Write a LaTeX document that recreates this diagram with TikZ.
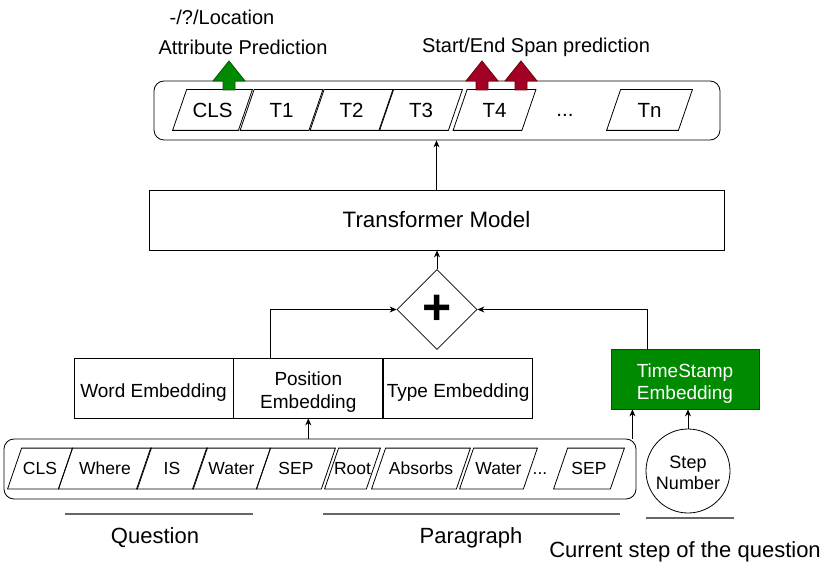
\documentclass[tikz,border=0pt]{standalone}
\usepackage{fontspec}
\setmainfont{Liberation Sans}
\usetikzlibrary{arrows.meta,positioning,calc,shapes.geometric}
\definecolor{TGreen}{HTML}{008A00}
\definecolor{TGreenDark}{HTML}{005700}
\definecolor{TRed}{HTML}{A20025}
\definecolor{TRedDark}{HTML}{6F0000}
\definecolor{TGray}{HTML}{666666}

\tikzset{
  tok/.style={minimum width=#1,minimum height=40pt,inner sep=0pt,font=\fontsize{17.5}{20}\selectfont,
    append after command={\pgfextra{\draw (\tikzlastnode.south west) -- ($(\tikzlastnode.north west)+(14,0)$) -- (\tikzlastnode.north east) -- ($(\tikzlastnode.south east)+(-14,0)$) -- cycle;}}},
  toptok/.style={tok=#1,font=\fontsize{20.5}{24}\selectfont},
  toptok/.default=82pt,
  holder/.style={draw,rounded corners=10pt,minimum height=59pt,inner sep=0pt},
  embbox/.style={draw,align=center,minimum width=149pt,minimum height=60pt,inner sep=0pt,font=\fontsize{19}{23}\selectfont,execute at begin node={\rule{0pt}{22pt}}},
  twoline/.style={execute at begin node={\rule{0pt}{#1}}},
  lbl/.style={font=\fontsize{20}{24}\selectfont,inner sep=0pt},
  biglbl/.style={font=\fontsize{22}{26}\selectfont,inner sep=0pt},
  sepline/.style={TGray,line width=1.4pt},
  arr/.style={->,line width=0.8pt},
  pics/blockup/.style={code={\draw[line width=0.8pt,#1] (-6,0) -- (-6,-9) -- (-16,-9) -- (0,-29) -- (16,-9) -- (6,-9) -- (6,0) -- cycle;}}
}

\begin{document}
\begin{tikzpicture}[x=1pt,y=-1pt,>={Stealth[length=7pt,width=6pt]},line width=0.8pt]
    \useasboundingbox (0,0) rectangle (830,569);

    % output row
    \node[holder,minimum width=566pt] (outrow) at (437,110.5) {};
    \node[toptok=79pt] (ocls) at (212.5,110) {CLS};
    \foreach \i/\x in {1/281.5,2/351.5,3/421,4/494.5}
      \node[toptok] (t\i) at (\x,110) {T\i};
    \node[font=\fontsize{20.5}{24}\selectfont] (odots) at (565,115) {...};
    \node[toptok=85pt] (tn) at (649.5,110) {Tn};

    \pic at (229,90) {blockup={fill=TGreen,draw=TGreenDark}};
    \pic at (482,90) {blockup={fill=TRed,draw=TRedDark}};
    \pic at (521,90) {blockup={fill=TRed,draw=TRedDark}};

    \node[lbl] (attr) at (243,47) {Attribute Prediction};
    \node[lbl] (loc) at (222,17) {-/?/Location};
    \node[lbl] (span) at (536,47) {Start/End Span prediction};

    % model
    \node[draw,minimum width=575pt,minimum height=60pt,font=\fontsize{22.3}{26}\selectfont] (trans) at (436.5,220) {Transformer Model};
    \node[draw,diamond,minimum width=80pt,minimum height=80pt,inner sep=0pt,font=\bfseries\fontsize{50}{50}\selectfont] (plus) at (437,309.5) {+};

    % embeddings
    \node[embbox,minimum width=159pt] (word) at (153.5,388) {Word Embedding};
    \node[embbox,twoline=45pt,right=0pt of word] (pos) {Position\\Embedding};
    \node[embbox,right=0pt of pos] (type) {Type Embedding};
    \node[embbox,twoline=44pt,minimum width=148pt,fill=TGreen,draw=TGreenDark,text=white,font=\fontsize{19}{22}\selectfont] (stamp) at (685,379) {TimeStamp\\Embedding};

    % input row
    \node[holder,minimum width=632pt,minimum height=60pt] (inrow) at (320,469) {};
    \foreach \n/\x/\w/\t in {icls/40/64/CLS,iwhere/105/92/Where,iis/172/70/IS,iwater/231.5/77/Water,isep/296/78/SEP,iroot/352.5/55/Root,iabs/421/98/Absorbs,iwatertwo/498.5/77/Water,iseptwo/589/70/SEP}
      \node[tok=\w pt] (\n) at (\x,468.5) {\t};
    \node[font=\fontsize{17.5}{20}\selectfont] (idots) at (540,474) {...};

    \node[draw,circle,minimum size=84pt,inner sep=0pt,align=center,font=\fontsize{18}{21}\selectfont,twoline=37pt] (step) at (688,471) {Step\\Number};

    % connectors
    \draw[arr] (trans.north) -- (trans.north |- outrow.south);
    \draw[arr] (plus.north) -- (plus.north |- trans.south);
    \draw[arr] ($(pos.north west)!0.25!(pos.north east)$) |- (plus.west);
    \draw[arr] ($(stamp.north west)!0.25!(stamp.north east)$) |- (plus.east);
    \draw[arr] (pos.south |- inrow.north) -- (pos.south);
    \coordinate (inexit) at ($(inrow.north east)+(-4,0)$);
    \draw[arr] (inexit) -- (inexit |- stamp.south);
    \draw[arr] (step.north) -- (step.north |- stamp.south);

    % captions
    \coordinate (qa) at (65,514);
    \coordinate (qb) at (253,514);
    \draw[sepline] (qa) -- (qb);
    \coordinate (pa) at (323,514);
    \coordinate (pb) at (620,514);
    \draw[sepline] (pa) -- (pb);
    \coordinate (sa) at (646,518);
    \coordinate (sb) at (734,518);
    \draw[sepline] (sa) -- (sb);
    \node[biglbl] (quest) at (155,538) {Question};
    \node[biglbl] (para) at (471,538) {Paragraph};
    \node[biglbl] (cur) at (685,552) {Current step of the question};
\end{tikzpicture}
\end{document}
